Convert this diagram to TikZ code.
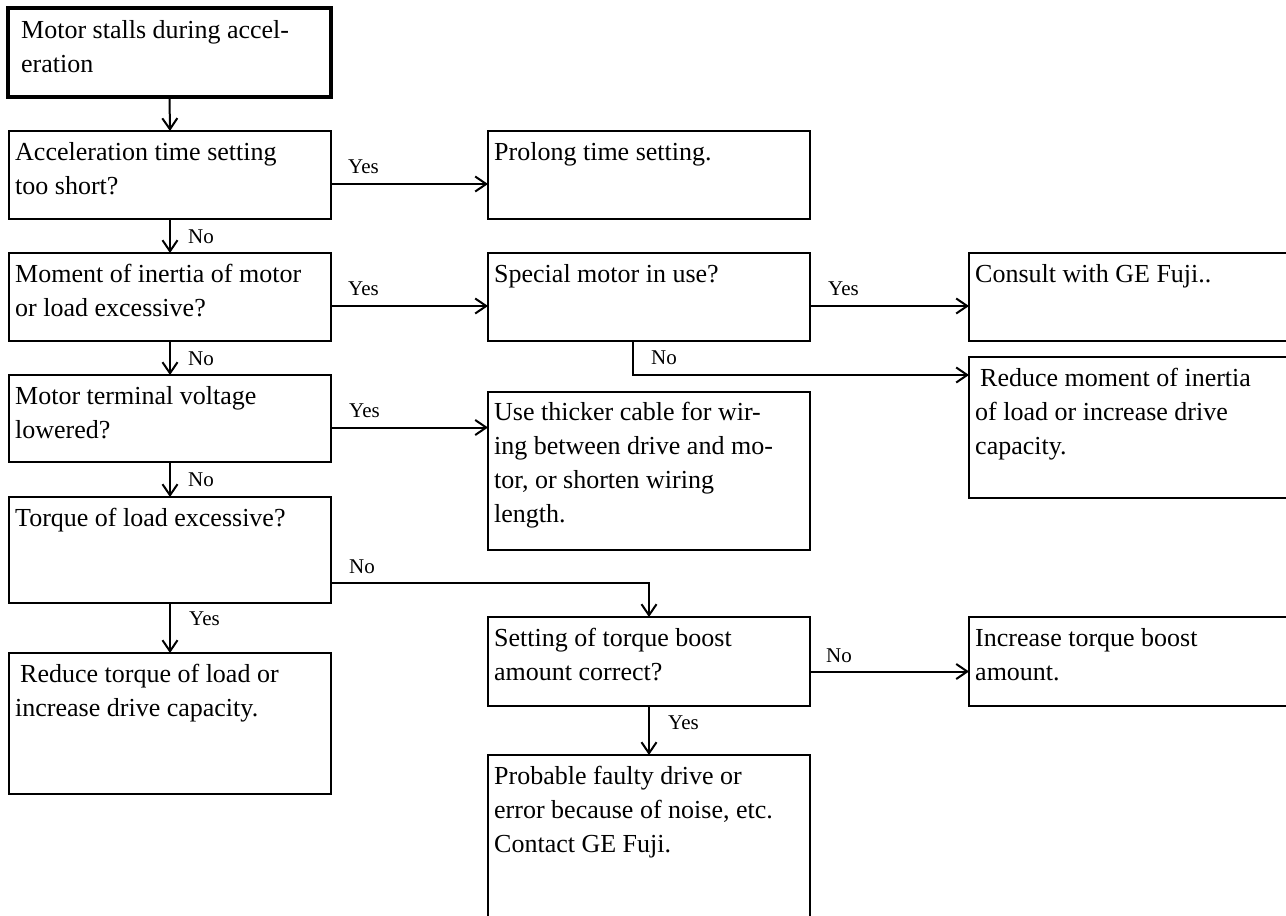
\documentclass[tikz,border=0pt]{standalone}
\usepackage{fontspec}
\setmainfont{Liberation Serif}
\usetikzlibrary{arrows.meta}
\begin{document}
\begin{tikzpicture}[x=1pt,y=-1pt,
 box/.style={draw, line width=2.1pt, anchor=north west, inner sep=0pt, outer sep=0pt},
 txt/.style={anchor=north west, align=left, inner sep=0pt, font=\fontsize{26}{34}\selectfont},
 lab/.style={anchor=base west, inner sep=0pt, font=\fontsize{21}{24}\selectfont},
 arr/.style={line width=2pt, -{Straight Barb[length=11pt,width=15pt,line width=2pt]}},
]
\useasboundingbox (0,0) rectangle (1286,916);
\fill[white] (0,0) rectangle (1286,916);
% boxes
\node[box, line width=4.5pt, minimum width=323pt, minimum height=89pt] (A) at (8,8) {};
\node[box, minimum width=322pt, minimum height=88pt] (B) at (9,131) {};
\node[box, minimum width=322pt, minimum height=88pt] (C) at (488,131) {};
\node[box, minimum width=322pt, minimum height=88pt] (D) at (9,253) {};
\node[box, minimum width=322pt, minimum height=88pt] (E) at (488,253) {};
\node[box, minimum width=326pt, minimum height=88pt] (F) at (969,253) {};
\node[box, minimum width=326pt, minimum height=141pt] (G) at (969,357) {};
\node[box, minimum width=322pt, minimum height=87pt] (H) at (9,375) {};
\node[box, minimum width=322pt, minimum height=158pt] (I) at (488,392) {};
\node[box, minimum width=322pt, minimum height=106pt] (J) at (9,497) {};
\node[box, minimum width=322pt, minimum height=89pt] (K) at (488,617) {};
\node[box, minimum width=326pt, minimum height=89pt] (L) at (969,617) {};
\node[box, minimum width=322pt, minimum height=170pt] (M) at (488,755) {};
\node[box, minimum width=322pt, minimum height=141pt] (N) at (9,653) {};
% texts
\node[txt] (At) at ([xshift=13pt,yshift=-5pt]A.north west) {\rule{0pt}{25pt}Motor stalls during accel-\\eration};
\node[txt] (Bt) at ([xshift=6pt,yshift=-4pt]B.north west) {\rule{0pt}{25pt}Acceleration time setting\\too short?};
\node[txt] (Ct) at ([xshift=6pt,yshift=-4pt]C.north west) {\rule{0pt}{25pt}Prolong time setting.};
\node[txt] (Dt) at ([xshift=6pt,yshift=-4pt]D.north west) {\rule{0pt}{25pt}Moment of inertia of motor\\or load excessive?};
\node[txt] (Et) at ([xshift=6pt,yshift=-4pt]E.north west) {\rule{0pt}{25pt}Special motor in use?};
\node[txt] (Ft) at ([xshift=6pt,yshift=-4pt]F.north west) {\rule{0pt}{25pt}Consult with GE Fuji..};
\node[txt] (Gt) at ([xshift=6pt,yshift=-4pt]G.north west) {\rule{0pt}{25pt}\hspace{5pt}Reduce moment of inertia\\of load or increase drive\\capacity.};
\node[txt] (Ht) at ([xshift=6pt,yshift=-4pt]H.north west) {\rule{0pt}{25pt}Motor terminal voltage\\lowered?};
\node[txt] (It) at ([xshift=6pt,yshift=-3pt]I.north west) {\rule{0pt}{25pt}Use thicker cable for wir-\\ing between drive and mo-\\tor, or shorten wiring\\length.};
\node[txt] (Jt) at ([xshift=6pt,yshift=-4pt]J.north west) {\rule{0pt}{25pt}Torque of load excessive?};
\node[txt] (Kt) at ([xshift=6pt,yshift=-4pt]K.north west) {\rule{0pt}{25pt}Setting of torque boost\\amount correct?};
\node[txt] (Lt) at ([xshift=6pt,yshift=-4pt]L.north west) {\rule{0pt}{25pt}Increase torque boost\\amount.};
\node[txt] (Mt) at ([xshift=6pt,yshift=-4pt]M.north west) {\rule{0pt}{25pt}Probable faulty drive or\\error because of noise, etc.\\Contact GE Fuji.};
\node[txt] (Nt) at ([xshift=6pt,yshift=-4pt]N.north west) {\rule{0pt}{25pt}\hspace{5pt}Reduce torque of load or\\increase drive capacity.};
% connectors
\draw[arr] (A.south) -- (B.north);
\draw[arr] ([yshift=-9pt]B.east) -- ([yshift=-9pt]B.east -| C.west);
\draw[arr] (B.south) -- (D.north);
\draw[arr] ([yshift=-9pt]D.east) -- ([yshift=-9pt]D.east -| E.west);
\draw[arr] ([yshift=-9pt]E.east) -- ([yshift=-9pt]E.east -| F.west);
\draw[arr] ([xshift=-16pt]E.south) |- ([yshift=-18pt]G.north west);
\draw[arr] (D.south) -- (H.north);
\draw[arr] ([yshift=-9pt]H.east) -- ([yshift=-9pt]H.east -| I.west);
\draw[arr] (H.south) -- (J.north);
\draw[arr] ([yshift=-33pt]J.east) -| (K.north);
\draw[arr] (J.south) -- (N.north);
\draw[arr] ([yshift=-10pt]K.east) -- ([yshift=-10pt]K.east -| L.west);
\draw[arr] (K.south) -- (M.north);
% labels
\node[lab] (y1) at ([xshift=17pt,yshift=1.5pt]B.east) {Yes};
\node[lab] (n1) at ([xshift=18pt,yshift=-24pt]B.south) {No};
\node[lab] (y2) at ([xshift=17pt,yshift=1.5pt]D.east) {Yes};
\node[lab] (y3) at ([xshift=18pt,yshift=1.5pt]E.east) {Yes};
\node[lab] (n2) at ([xshift=2pt,yshift=-23pt]E.south) {No};
\node[lab] (n3) at ([xshift=18pt,yshift=-24pt]D.south) {No};
\node[lab] (y4) at ([xshift=18pt,yshift=1.5pt]H.east) {Yes};
\node[lab] (n4) at ([xshift=18pt,yshift=-24pt]H.south) {No};
\node[lab] (n5) at ([xshift=18pt,yshift=-23pt]J.east) {No};
\node[lab] (y5) at ([xshift=19pt,yshift=-22pt]J.south) {Yes};
\node[lab] (n6) at ([xshift=16pt,yshift=-1pt]K.east) {No};
\node[lab] (y6) at ([xshift=19pt,yshift=-23pt]K.south) {Yes};
\end{tikzpicture}
\end{document}
